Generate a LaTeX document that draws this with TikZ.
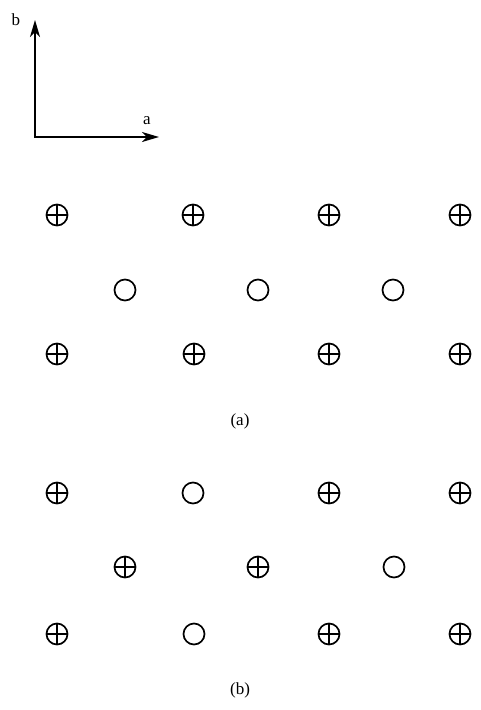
\documentclass[tikz,border=0pt]{standalone}
\usepackage{fontspec}
\setmainfont{Liberation Serif}
\usetikzlibrary{arrows.meta, positioning}

\begin{document}
\begin{tikzpicture}[
    x=1pt, y=-1pt,
    site/.style = {circle, draw=black, line width=1.7pt, minimum size=21pt, inner sep=0pt},
    xsite/.style = {site, path picture={
        \draw[line width=1.5pt] (path picture bounding box.north) -- (path picture bounding box.south);
        \draw[line width=1.5pt] (path picture bounding box.west) -- (path picture bounding box.east);}},
    axis/.style = {draw=black, line width=2pt, -{Stealth[length=17pt, width=10pt, inset=5pt]}},
    lbl/.style = {font=\fontsize{17}{19}\selectfont, inner sep=0pt}
]
\useasboundingbox (0,0) rectangle (480,710);

% axes
\coordinate (o) at (35,137);
\coordinate (btip) at (35,20);
\coordinate (atip) at (159,137);
\draw [axis] (o) -- (btip);
\draw [axis] ([xshift=-1pt]o) -- (atip);
\node (blbl) [lbl] at (16,20) {b};
\node (albl) [lbl] at (147,121) {a};

% lattice (a)
\node (a11) [xsite] at (57,215) {};
\node (a12) [xsite] at (193,215) {};
\node (a13) [xsite] at (329,215) {};
\node (a14) [xsite] at (460,215) {};
\node (a21) [site] at (125,290) {};
\node (a22) [site] at (258,290) {};
\node (a23) [site] at (393,290) {};
\node (a31) [xsite] at (57,354) {};
\node (a32) [xsite] at (194,354) {};
\node (a33) [xsite] at (329,354) {};
\node (a34) [xsite] at (460,354) {};
\node (capa) [lbl] at (240,421) {(a)};

% lattice (b)
\node (b11) [xsite] at (57,493) {};
\node (b12) [site] at (193,493) {};
\node (b13) [xsite] at (329,493) {};
\node (b14) [xsite] at (460,493) {};
\node (b21) [xsite] at (125,567) {};
\node (b22) [xsite] at (258,567) {};
\node (b23) [site] at (394,567) {};
\node (b31) [xsite] at (57,634) {};
\node (b32) [site] at (194,634) {};
\node (b33) [xsite] at (329,634) {};
\node (b34) [xsite] at (460,634) {};
\node (capb) [lbl] at (240,690) {(b)};

\end{tikzpicture}
\end{document}
